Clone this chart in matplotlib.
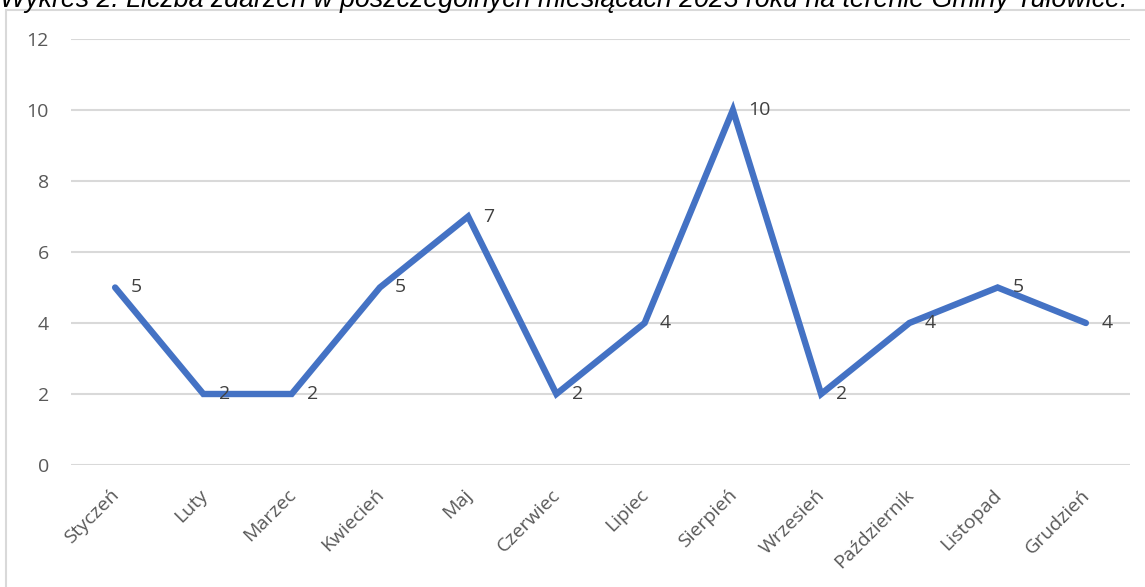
import matplotlib.pyplot as plt
import matplotlib.transforms as mtransforms
from matplotlib.patches import Rectangle

months = ['Styczeń', 'Luty', 'Marzec', 'Kwiecień', 'Maj', 'Czerwiec',
          'Lipiec', 'Sierpień', 'Wrzesień', 'Październik', 'Listopad', 'Grudzień']
events = [5, 2, 2, 5, 7, 2, 4, 10, 2, 4, 5, 4]
y_ticks = [0, 2, 4, 6, 8, 10, 12]
title = 'Wykres 2. Liczba zdarzeń w poszczególnych miesiącach 2023 roku na terenie Gminy Tułowice.'

W, H = 1145, 587
fig = plt.figure(figsize=(W / 100, H / 100), dpi=100)
ax = fig.add_axes([71 / W, 1 - 465 / H, (1130 - 71) / W, (465 - 39) / H])

# chart frame (top part clipped like the screenshot)
fig.patches.append(Rectangle((6 / W, -0.1), 1.2, 1 - 10 / H + 0.1, transform=fig.transFigure,
                             fill=False, edgecolor='#D9D9D9', linewidth=1.5))

fig.text(0 / W, 1 - 7 / H, title, fontsize=19.3, style='italic', family='Liberation Sans',
         ha='left', va='baseline', color='black')

x = list(range(len(months)))
ax.plot(x, events, color='#4472C4', linewidth=4.6, solid_capstyle='round', solid_joinstyle='miter', zorder=3)
for xi, v in zip(x, events):
    ax.annotate(str(v), (xi, v), xytext=(11, 0), textcoords='offset points',
                ha='left', va='center', fontsize=14, family='Open Sans', color='#404040', zorder=4)

ax.set_xlim(-0.5, len(months) - 0.5)
ax.set_ylim(0, 12)
ax.set_yticks(y_ticks)
ax.grid(axis='y', color='#D9D9D9', linewidth=1.5)
ax.set_axisbelow(True)
for s in ax.spines.values():
    s.set_visible(False)
ax.tick_params(length=0)
ax.tick_params(axis='y', pad=16, labelsize=14, labelcolor='#595959')
ax.tick_params(axis='x', pad=15, labelsize=14, labelcolor='#595959')
ax.set_xticks(x)
ax.set_xticklabels(months, rotation=45, ha='right', rotation_mode='anchor')
shift = mtransforms.ScaledTranslation(-5 / 100, 0, fig.dpi_scale_trans)
for lab in ax.get_xticklabels():
    lab.set_transform(lab.get_transform() + shift)
for lab in ax.get_xticklabels() + ax.get_yticklabels():
    lab.set_family('Open Sans')

fig.savefig('out.png', dpi=100)
